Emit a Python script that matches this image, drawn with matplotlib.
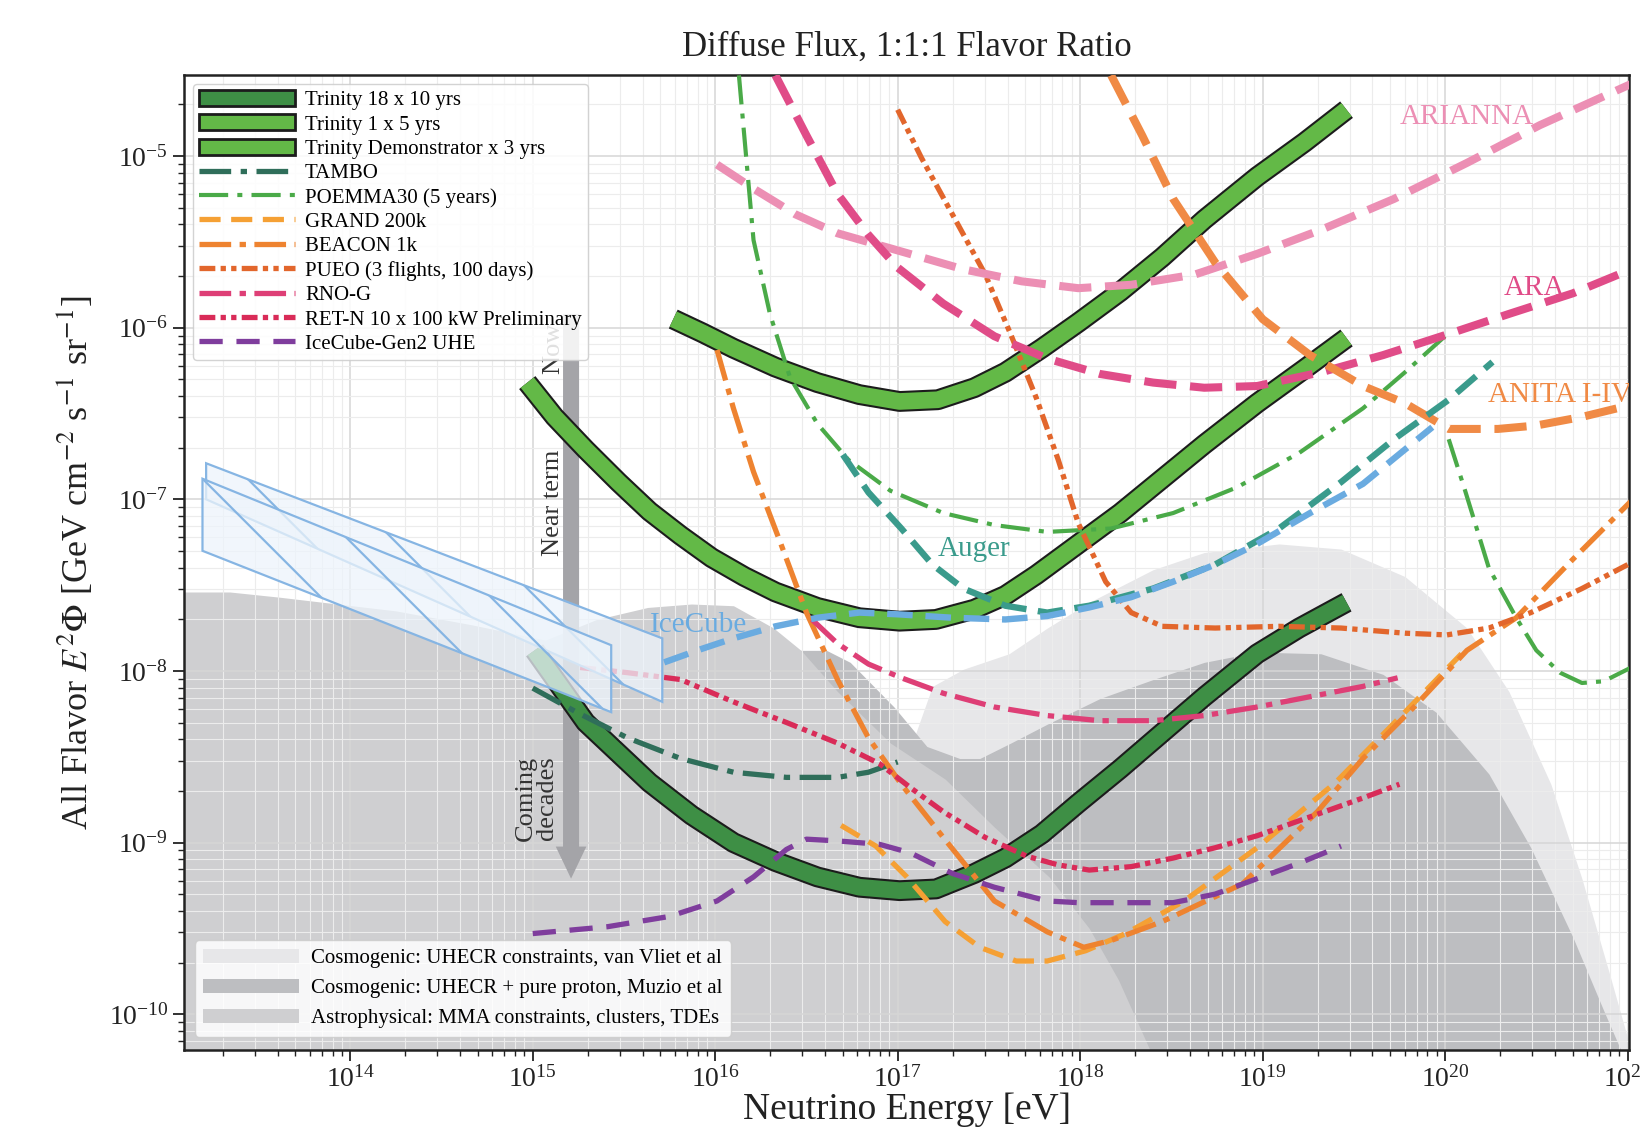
import numpy as np
import matplotlib.pyplot as plt
import matplotlib.patheffects as pe
from matplotlib.patches import Patch, Polygon
from matplotlib.collections import LineCollection
from matplotlib.ticker import LogLocator, NullFormatter

plt.rcParams['font.family'] = ['Liberation Serif', 'DejaVu Serif']
plt.rcParams['mathtext.fontset'] = 'stix'

# all values are log10(E / eV) and log10(E^2 Phi / GeV cm^-2 s^-1 sr^-1)
trin18_x = [15.01, 15.15, 15.29, 15.47, 15.64, 15.87, 16.10, 16.33, 16.56, 16.79, 17.01, 17.21, 17.42,
            17.59, 17.79, 17.99, 18.22, 18.45, 18.68, 18.97, 19.20, 19.46]
trin18_y = [-7.88, -8.09, -8.30, -8.48, -8.65, -8.84, -9.00, -9.11, -9.20, -9.26, -9.28, -9.27, -9.18,
            -9.09, -8.95, -8.77, -8.57, -8.36, -8.15, -7.90, -7.75, -7.60]
trin1_x = [14.97, 15.12, 15.29, 15.47, 15.64, 15.81, 15.98, 16.16, 16.33, 16.56, 16.79, 17.01, 17.21,
           17.42, 17.59, 17.76, 17.99, 18.22, 18.45, 18.68, 18.97, 19.23, 19.46]
trin1_y = [-6.32, -6.52, -6.71, -6.90, -7.07, -7.21, -7.34, -7.45, -7.54, -7.63, -7.69, -7.71, -7.70,
           -7.64, -7.56, -7.44, -7.26, -7.08, -6.88, -6.68, -6.44, -6.24, -6.06]
demo_x = [15.77, 15.93, 16.10, 16.33, 16.56, 16.79, 17.01, 17.22, 17.42, 17.59, 17.79, 17.99, 18.22,
          18.45, 18.68, 18.97, 19.23, 19.46]
demo_y = [-5.95, -6.03, -6.12, -6.23, -6.32, -6.39, -6.43, -6.42, -6.35, -6.26, -6.12, -5.97, -5.79,
          -5.59, -5.37, -5.12, -4.92, -4.73]

tambo_x = [15.0, 15.24, 15.52, 15.81, 16.10, 16.39, 16.67, 16.84, 17.0]
tambo_y = [-8.10, -8.24, -8.39, -8.51, -8.59, -8.62, -8.62, -8.59, -8.53]
poemma_x = [16.13, 16.17, 16.21, 16.30, 16.41, 16.56, 16.73, 16.96, 17.25, 17.53, 17.82, 18.17,
            18.51, 18.86, 19.20, 19.55, 19.78, 20.01]
poemma_y = [-4.53, -5.01, -5.49, -5.92, -6.29, -6.56, -6.77, -6.95, -7.08, -7.15, -7.19, -7.17,
            -7.08, -6.93, -6.73, -6.47, -6.26, -6.04]
poemma2_x = [20.02, 20.11, 20.24, 20.39, 20.50, 20.63, 20.75, 20.87, 21.02]
poemma2_y = [-6.65, -6.95, -7.40, -7.69, -7.88, -8.01, -8.07, -8.06, -7.98]
grand_x = [16.69, 16.88, 17.05, 17.26, 17.45, 17.65, 17.82, 18.03, 18.25, 18.57, 18.97, 19.40, 19.78, 20.09]
grand_y = [-8.90, -9.02, -9.20, -9.46, -9.61, -9.69, -9.69, -9.63, -9.53, -9.34, -9.03, -8.65, -8.24, -7.90]
beacon_x = [16.01, 16.10, 16.21, 16.36, 16.50, 16.67, 16.84, 17.02, 17.25, 17.53, 17.82, 18.02, 18.17,
            18.45, 18.89, 19.30, 19.55, 19.83, 20.12, 20.39, 20.70, 21.02]
beacon_y = [-6.13, -6.47, -6.84, -7.26, -7.66, -8.05, -8.39, -8.66, -8.97, -9.34, -9.52, -9.61, -9.57,
            -9.46, -9.24, -8.82, -8.51, -8.21, -7.88, -7.69, -7.35, -7.01]
pueo_x = [17.0, 17.13, 17.30, 17.48, 17.62, 17.76, 17.88, 17.99, 18.14, 18.28, 18.45, 18.74, 19.09,
          19.43, 19.78, 20.01, 20.24, 20.47, 20.75, 21.02]
pueo_y = [-4.73, -5.01, -5.34, -5.69, -6.04, -6.41, -6.77, -7.14, -7.48, -7.66, -7.74, -7.75, -7.74,
          -7.75, -7.78, -7.79, -7.75, -7.66, -7.52, -7.37]
rnog_x = [16.53, 16.67, 16.84, 17.02, 17.25, 17.53, 17.82, 18.11, 18.40, 18.68, 18.97, 19.26, 19.55, 19.74]
rnog_y = [-7.70, -7.84, -7.96, -8.04, -8.13, -8.21, -8.26, -8.29, -8.29, -8.26, -8.21, -8.15, -8.09, -8.04]
retn_x = [15.26, 15.52, 15.81, 16.10, 16.39, 16.67, 16.90, 17.07, 17.25, 17.48, 17.71, 17.88, 18.05,
          18.28, 18.51, 18.74, 18.97, 19.26, 19.55, 19.75]
retn_y = [-7.98, -8.01, -8.05, -8.18, -8.30, -8.42, -8.54, -8.68, -8.82, -8.97, -9.08, -9.13, -9.16,
          -9.14, -9.09, -9.03, -8.96, -8.85, -8.74, -8.66]
gen2_x = [15.0, 15.41, 15.75, 16.01, 16.21, 16.39, 16.50, 16.67, 16.90, 17.07, 17.30, 17.53, 17.82,
          17.99, 18.28, 18.51, 18.74, 18.97, 19.20, 19.43]
gen2_y = [-9.53, -9.49, -9.43, -9.34, -9.20, -9.04, -8.98, -8.99, -9.01, -9.06, -9.18, -9.26, -9.34,
          -9.35, -9.35, -9.35, -9.30, -9.21, -9.12, -9.02]

arianna_x = [16.01, 16.21, 16.44, 16.67, 17.0, 17.36, 17.68, 17.99, 18.28, 18.63, 18.97, 19.32, 19.72,
             20.12, 20.52, 21.02]
arianna_y = [-5.05, -5.19, -5.34, -5.45, -5.55, -5.66, -5.73, -5.77, -5.75, -5.69, -5.57, -5.43, -5.25,
             -5.04, -4.82, -4.58]
ara_x = [16.33, 16.50, 16.67, 16.84, 17.0, 17.25, 17.53, 17.82, 18.11, 18.40, 18.68, 18.97, 19.32,
         19.66, 20.01, 20.35, 20.70, 21.02]
ara_y = [-4.53, -4.88, -5.22, -5.46, -5.65, -5.86, -6.05, -6.18, -6.27, -6.32, -6.35, -6.34, -6.26,
         -6.16, -6.04, -5.92, -5.80, -5.66]
anita_x = [18.17, 18.34, 18.51, 18.74, 19.00, 19.26, 19.55, 19.78, 20.02, 20.29, 20.50, 20.75, 21.02]
anita_y = [-4.53, -4.88, -5.25, -5.62, -5.95, -6.16, -6.34, -6.44, -6.59, -6.59, -6.57, -6.52, -6.45]
auger_x = [16.70, 16.84, 17.02, 17.19, 17.36, 17.59, 17.82, 18.05, 18.40, 18.74, 19.09, 19.43, 19.72,
           20.02, 20.26]
auger_y = [-6.74, -6.96, -7.17, -7.38, -7.52, -7.62, -7.66, -7.62, -7.52, -7.38, -7.17, -6.90, -6.65,
           -6.42, -6.20]
icecube_x = [15.72, 15.93, 16.10, 16.33, 16.56, 16.79, 17.0, 17.30, 17.59, 17.82, 18.05, 18.28, 18.51,
             18.74, 18.97, 19.26, 19.55, 19.78, 19.93]
icecube_y = [-7.95, -7.87, -7.81, -7.74, -7.69, -7.66, -7.67, -7.69, -7.70, -7.68, -7.63, -7.57, -7.48,
             -7.38, -7.26, -7.08, -6.91, -6.71, -6.58]

# IceCube measured spectra (two fits): x ends, upper and lower edges
ic_a_x = [13.21, 15.71]
ic_a_hi = [-6.79, -7.81]
ic_a_lo = [-7.00, -8.18]
ic_b_x = [13.19, 15.43]
ic_b_hi = [-6.88, -7.85]
ic_b_lo = [-7.30, -8.24]

# model bands
astro_x = [13.09, 13.34, 13.61, 14.01, 14.25, 14.66, 15.07, 15.35, 15.63, 15.87, 16.10, 16.32, 16.47,
           16.67, 16.96, 17.26, 17.53, 17.83, 18.05, 18.21, 18.40]
astro_y = [-7.54, -7.54, -7.57, -7.62, -7.65, -7.73, -7.82, -7.70, -7.63, -7.61, -7.62, -7.75, -7.88,
           -8.12, -8.42, -8.63, -8.91, -9.20, -9.50, -9.80, -10.25]
muzio_x = [16.45, 16.61, 16.74, 16.98, 17.16, 17.34, 17.45, 17.62, 17.82, 18.11, 18.40, 18.68, 18.97,
           19.32, 19.66, 19.95, 20.24, 20.47, 20.70, 20.87, 20.98]
muzio_y = [-7.88, -7.88, -7.95, -8.21, -8.44, -8.51, -8.51, -8.42, -8.31, -8.16, -8.05, -7.95, -7.89,
           -7.90, -8.02, -8.24, -8.60, -9.03, -9.55, -9.98, -10.25]
vliet_x = [17.0, 17.10, 17.19, 17.36, 17.61, 17.82, 18.05, 18.40, 18.68, 19.09, 19.43, 19.78, 20.12,
           20.35, 20.58, 20.75, 20.90, 21.03]
vliet_y = [-8.97, -8.36, -8.09, -7.99, -7.90, -7.75, -7.60, -7.41, -7.31, -7.26, -7.29, -7.45, -7.75,
           -8.12, -8.66, -9.21, -9.76, -10.25]


def lg(a):
    return 10.0 ** np.asarray(a)


fig = plt.figure(figsize=(16.42, 11.33), dpi=100)
ax = fig.add_axes([0.1122, 0.0730, 0.8801, 0.8605])
ax.set_xscale('log')
ax.set_yscale('log')
ax.set_xlim(lg(13.09), lg(21.01))
ax.set_ylim(lg(-10.21), lg(-4.53))

c_vliet = '#e7e7e9'
c_muzio = '#bdbec1'
c_astro = '#cfcfd1'
ax.fill_between(lg(vliet_x), lg(vliet_y), 1e-12, color=c_vliet, lw=0, zorder=0.2)
ax.fill_between(lg(muzio_x), lg(muzio_y), 1e-12, color=c_muzio, lw=0, zorder=0.3)
ax.fill_between(lg(astro_x), lg(astro_y), 1e-12, color=c_astro, lw=0, zorder=0.4)

ax.set_axisbelow(True)
ax.grid(which='major', color='#d6d6d6', lw=1.1)
ax.grid(which='minor', color='#ececec', lw=0.8)

# timeline arrow
ax.annotate('', xy=(lg(15.21), lg(-9.21)), xytext=(lg(15.21), lg(-5.92)),
            arrowprops=dict(arrowstyle='simple,head_width=1.05,head_length=1.1,tail_width=0.55',
                            mutation_scale=21, color='#a4a4a8', lw=0, shrinkA=0, shrinkB=0),
            zorder=1)
ax.text(lg(15.11), lg(-6.12), 'Now', rotation=90, ha='center', va='center', fontsize=19,
        color='#333333', zorder=1)
ax.text(lg(15.11), lg(-7.02), 'Near term', rotation=90, ha='center', va='center', fontsize=19,
        color='#333333', zorder=1)
ax.text(lg(15.02), lg(-8.74), 'Coming\ndecades', rotation=90, ha='center', va='center', fontsize=19,
        color='#333333', zorder=1, linespacing=0.9)

# Trinity bands
g_dark = '#3e8f45'
g_light = '#63b947'
for xs, ys, col in [(demo_x, demo_y, g_light), (trin1_x, trin1_y, g_light), (trin18_x, trin18_y, g_dark)]:
    ax.plot(lg(xs), lg(ys), color=col, lw=12, solid_capstyle='butt', solid_joinstyle='round', zorder=2,
            path_effects=[pe.Stroke(linewidth=15, foreground='#1c1c1c'), pe.Normal()])

# experiments
curves = [
    ('TAMBO', tambo_x, tambo_y, '#2f6e5a', 3.8, (0, (6, 1.8, 1.2, 1.8))),
    ('POEMMA30 (5 years)', poemma_x, poemma_y, '#4aaa48', 3.0, (0, (7, 2.2, 1.2, 2.2))),
    ('GRAND 200k', grand_x, grand_y, '#f5a034', 3.8, (0, (4, 2))),
    ('BEACON 1k', beacon_x, beacon_y, '#ee8330', 3.8, (0, (6, 1.6, 1.2, 1.6))),
    ('PUEO (3 flights, 100 days)', pueo_x, pueo_y, '#e2662c', 3.8, (0, (3, 1, 1, 1, 1, 1))),
    ('RNO-G', rnog_x, rnog_y, '#de3f76', 3.8, (0, (6, 1.6, 1.2, 1.6))),
    ('RET-N 10 x 100 kW Preliminary', retn_x, retn_y, '#d92b58', 3.8, (0, (3, 1, 1, 1, 1, 1))),
    ('IceCube-Gen2 UHE', gen2_x, gen2_y, '#7f3d9d', 3.8, (0, (4.4, 2.6))),
]
handles = [Patch(facecolor=g_dark, edgecolor='#1c1c1c', lw=2, label='Trinity 18 x 10 yrs'),
           Patch(facecolor=g_light, edgecolor='#1c1c1c', lw=2, label='Trinity 1 x 5 yrs'),
           Patch(facecolor=g_light, edgecolor='#1c1c1c', lw=2, label='Trinity Demonstrator x 3 yrs')]
for name, xs, ys, col, lw, ls in curves:
    ln, = ax.plot(lg(xs), lg(ys), color=col, lw=lw, ls=ls, zorder=3, label=name)
    handles.append(ln)
ax.plot(lg(poemma2_x), lg(poemma2_y), color='#4aaa48', lw=3.0, ls=(0, (7, 2.2, 1.2, 2.2)), zorder=3)

others = [
    ('ARIANNA', arianna_x, arianna_y, '#ec8fb4', 5.8, (0, (4, 1.7)), 20.12, -4.77),
    ('ARA', ara_x, ara_y, '#e04c88', 5.8, (0, (4, 1.7)), 20.49, -5.77),
    ('ANITA I-IV', anita_x, anita_y, '#f08a45', 5.8, (0, (4, 1.7)), 20.63, -6.39),
    ('Auger', auger_x, auger_y, '#3a9b8c', 4.6, (0, (4, 1.8)), 17.42, -7.29),
    ('IceCube', icecube_x, icecube_y, '#6aabe0', 4.6, (0, (4, 2)), 15.91, -7.73),
]
for name, xs, ys, col, lw, ls, tx, ty in others:
    ax.plot(lg(xs), lg(ys), color=col, lw=lw, ls=ls, zorder=3)
    ax.text(lg(tx), lg(ty), name, color=col, fontsize=21, ha='center', va='center', zorder=5,
            clip_on=True)

# IceCube measured bands with sparse hatching
W = fig.get_figwidth() * fig.dpi * ax.get_position().width
H = fig.get_figheight() * fig.dpi * ax.get_position().height
for k, (bx, hi, lo) in enumerate([(ic_a_x, ic_a_hi, ic_a_lo), (ic_b_x, ic_b_hi, ic_b_lo)]):
    verts = [(lg(bx[0]), lg(hi[0])), (lg(bx[1]), lg(hi[1])), (lg(bx[1]), lg(lo[1])), (lg(bx[0]), lg(lo[0]))]
    poly = Polygon(verts, closed=True, facecolor='#edf4fb', alpha=0.75, edgecolor='none', zorder=4)
    ax.add_patch(poly)
    ax.add_patch(Polygon(verts, closed=True, facecolor='none', edgecolor='#86b5e3', lw=1.6, zorder=4))
    segs = [[(u, 1), (u + H / W, 0)] for u in np.arange(-1 + k * 40 / W, 1.2, 85 / W)]
    lc = LineCollection(segs, transform=ax.transAxes, colors='#86b5e3', lw=1.6, zorder=4)
    lc.set_clip_path(poly)
    ax.add_collection(lc)

ax.xaxis.set_major_locator(LogLocator(base=10, numticks=20))
ax.yaxis.set_major_locator(LogLocator(base=10, numticks=20))
ax.xaxis.set_minor_locator(LogLocator(base=10, subs=np.arange(2, 10), numticks=100))
ax.yaxis.set_minor_locator(LogLocator(base=10, subs=np.arange(2, 10), numticks=100))
ax.xaxis.set_minor_formatter(NullFormatter())
ax.yaxis.set_minor_formatter(NullFormatter())
ax.tick_params(which='major', direction='out', length=8, width=1.3, labelsize=20, colors='#222222')
ax.tick_params(which='minor', direction='out', length=4, width=1.0, colors='#222222')
for s in ax.spines.values():
    s.set_linewidth(1.8)
    s.set_color('#222222')

ax.set_title('Diffuse Flux, 1:1:1 Flavor Ratio', fontsize=25, pad=14, color='#222222')
ax.set_xlabel('Neutrino Energy [eV]', fontsize=27, labelpad=0, color='#222222')
ax.set_ylabel(r'All Flavor $E^2\Phi$ [GeV cm$^{-2}$ s$^{-1}$ sr$^{-1}$]', fontsize=26, labelpad=10,
              color='#222222')

leg1 = ax.legend(handles=handles, loc='upper left', bbox_to_anchor=(0.0058, 0.9914), fontsize=15,
                 handlelength=4.6, handleheight=0.8, labelspacing=0.2, handletextpad=0.5, borderpad=0.3,
                 borderaxespad=0, framealpha=0.85, edgecolor='#cccccc', fancybox=True)
leg1.set_zorder(6)
ax.add_artist(leg1)
bg = [Patch(facecolor=c_vliet, label='Cosmogenic: UHECR constraints, van Vliet et al'),
      Patch(facecolor=c_muzio, label='Cosmogenic: UHECR + pure proton, Muzio et al'),
      Patch(facecolor=c_astro, label='Astrophysical: MMA constraints, clusters, TDEs')]
leg2 = ax.legend(handles=bg, loc='lower left', bbox_to_anchor=(0.0072, 0.014), fontsize=15,
                 handlelength=4.6, labelspacing=0.5, handletextpad=0.6, borderpad=0.4,
                 borderaxespad=0, framealpha=0.85, edgecolor='#cccccc', fancybox=True)
leg2.set_zorder(6)

plt.savefig('out.png', dpi=100)
